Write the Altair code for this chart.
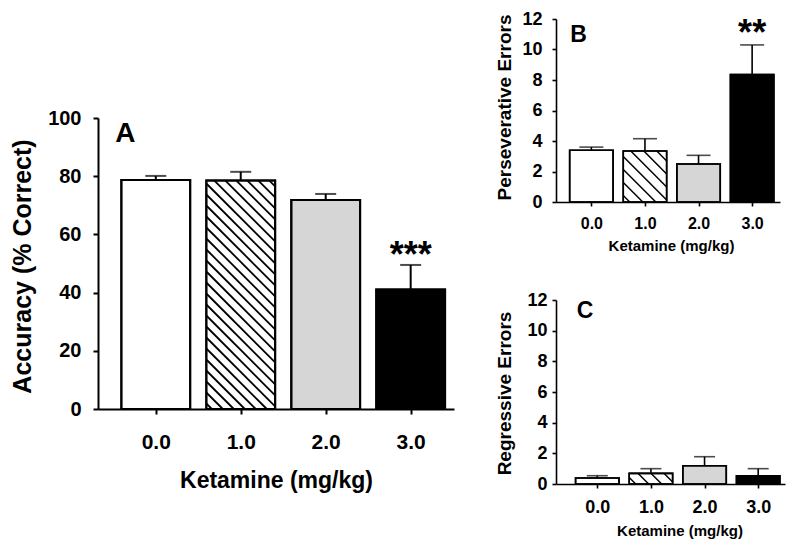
import altair as alt
import pandas as pd

# ---------------- data ----------------
doses = [0.0, 1.0, 2.0, 3.0]
bar_fills = ["#ffffff", "#ffffff", "#d6d6d6", "#000000"]

acc_mean = [78.7, 78.5, 71.8, 41.1]
acc_sem = [1.4, 3.0, 2.1, 8.4]

pers_mean = [3.39, 3.34, 2.49, 8.35]
pers_sem = [0.21, 0.81, 0.57, 1.95]

reg_mean = [0.39, 0.69, 1.19, 0.54]
reg_sem = [0.15, 0.31, 0.59, 0.46]

acc_ticks = [0, 20, 40, 60, 80, 100]
err_ticks = [0, 2, 4, 6, 8, 10, 12]

x_title = "Ketamine (mg/kg)"

FONT = "Liberation Sans"
HALF = 0.405  # half bar width in dose units


def hatch_segments(center, value, kx, ky, spacing):
    """Diagonal '\\' hatch lines clipped to a bar, returned in data units."""
    W = 2 * HALF * kx
    H = value * ky
    rows = []
    c = spacing * 0.5
    while c < W + H:
        u0 = max(0.0, c - H)
        u1 = min(W, c)
        if u1 > u0:
            rows.append({
                "hx1": center - HALF + u0 / kx, "hy1": (c - u0) / ky,
                "hx2": center - HALF + u1 / kx, "hy2": (c - u1) / ky,
            })
        c += spacing
    return pd.DataFrame(rows)


def panel(means, sems, ytitle, yticks, xdom, ydom, w, h, o):
    kx = w / (xdom[1] - xdom[0])
    ky = h / (ydom[1] - ydom[0])
    df = pd.DataFrame({
        "dose": doses,
        "mean": means,
        "top": [m + s for m, s in zip(means, sems)],
        "lo": [d - HALF for d in doses],
        "hi": [d + HALF for d in doses],
        "zero": [0.0] * 4,
        "fill": bar_fills,
    })
    xs = alt.Scale(domain=xdom, nice=False, zero=False)
    ys = alt.Scale(domain=ydom, nice=False, zero=False)
    xaxis = alt.Axis(
        values=doses, format=".1f", grid=False, labelFlush=False, labelOverlap=False,
        labelFont=FONT, labelFontSize=o["xlab"], labelFontWeight="bold", labelColor="black",
        labelBaseline="alphabetic", labelPadding=o["xpad"],
        tickSize=o["tick"], tickWidth=o["sw"], tickColor="black",
        domainColor="black", domainWidth=o["sw"],
        titleFont=FONT, titleFontSize=o["xtit"], titleFontWeight="bold", titleColor="black",
        titleX=w / 2 + o["xtx"], titleY=o["xty"], titleBaseline="alphabetic", titleAlign="center",
    )
    yaxis = alt.Axis(
        values=yticks, format="d", grid=False, labelFlush=False, labelOverlap=False,
        labelFont=FONT, labelFontSize=o["ylab"], labelFontWeight="bold", labelColor="black",
        labelAlign="right", labelBaseline="middle", labelPadding=o["ypad"],
        tickSize=o["tick"], tickWidth=o["sw"], tickColor="black",
        domainColor="black", domainWidth=o["sw"],
        titleFont=FONT, titleFontSize=o["ytit"], titleFontWeight="bold", titleColor="black",
        titleX=o["ytx"], titleY=o["yty"], titleAngle=270, titleBaseline="middle", titleAlign="center",
    )

    def X(f):
        return alt.X(f, type="quantitative", scale=xs, axis=xaxis, title=x_title)

    def Y(f):
        return alt.Y(f, type="quantitative", scale=ys, axis=yaxis, title=ytitle)

    base = alt.Chart(df)
    bars = base.mark_rect(stroke="black", strokeWidth=o["sw"]).encode(
        x=X("lo"), x2="hi", y=Y("mean"), y2="zero",
        fill=alt.Fill("fill:N", scale=None),
    )
    hd = hatch_segments(doses[1], means[1], kx, ky, o["hsp"])
    hatch = alt.Chart(hd).mark_rule(color="black", strokeWidth=o["hw"]).encode(
        x=X("hx1"), x2="hx2", y=Y("hy1"), y2="hy2"
    )
    outline = base.mark_rect(fillOpacity=0, stroke="black", strokeWidth=o["sw"]).encode(
        x=X("lo"), x2="hi", y=Y("mean"), y2="zero"
    )
    err = base.mark_rule(color="black", strokeWidth=o["sw"]).encode(
        x=X("dose"), y=Y("mean"), y2="top"
    )
    cap = base.mark_tick(orient="horizontal", size=o["cap"], thickness=o["sw"], color="black").encode(
        x=X("dose"), y=Y("top")
    )
    lab = alt.Chart(pd.DataFrame({"t": [o["letter"]], "lx": [o["lxy"][0]], "ly": [o["lxy"][1]]})).mark_text(
        font=FONT, fontWeight="bold", fontSize=o["lfs"], align="left", baseline="alphabetic", color="black"
    ).encode(x=X("lx"), y=Y("ly"), text="t:N")
    sig = alt.Chart(pd.DataFrame({"t": [o["sig"]], "sx": [3.0], "sy": [o["sigy"]]})).mark_text(
        font=FONT, fontWeight="bold", fontSize=o["sfs"], align="center", baseline="alphabetic", color="black"
    ).encode(x=X("sx"), y=Y("sy"), text="t:N")
    layers = [bars, hatch, outline, err, cap, lab]
    if o["sig"]:
        layers.append(sig)
    return alt.layer(*layers).properties(width=w, height=h)


A = panel(acc_mean, acc_sem, "Accuracy (% Correct)", acc_ticks, [-0.68, 3.51], [0, 100], 356, 291, dict(
    xlab=21, ylab=20, xtit=23, ytit=25, xpad=34, ypad=12, tick=5, sw=2, xtx=0, xty=78,
    ytx=-76, yty=148, hsp=11, hw=1.8, cap=21, letter="A", lxy=(-0.477, 91.9), lfs=28,
    sig="***", sigy=48.8, sfs=36))

B = panel(pers_mean, pers_sem, "Perseverative Errors", err_ticks, [-0.66, 3.52], [0, 12], 224, 183, dict(
    xlab=16, ylab=18, xtit=15, ytit=19, xpad=22, ypad=10, tick=4, sw=1.6, xtx=3, xty=48,
    ytx=-52, yty=88, hsp=13, hw=1.5, cap=24, letter="B", lxy=(-0.394, 10.51), lfs=23,
    sig="**", sigy=10.3, sfs=36))

C = panel(reg_mean, reg_sem, "Regressive Errors", err_ticks, [-0.77, 3.5], [0, 12], 229, 184, dict(
    xlab=18, ylab=18, xtit=15, ytit=19, xpad=24, ypad=5, tick=4, sw=1.6, xtx=9, xty=51,
    ytx=-52, yty=93, hsp=13, hw=1.5, cap=21, letter="C", lxy=(-0.382, 10.83), lfs=23,
    sig="", sigy=0, sfs=36))

spacer = alt.Chart(pd.DataFrame({"v": [0]})).mark_point(opacity=0).encode(
    x=alt.X("v:Q", axis=None), y=alt.Y("v:Q", axis=None)
).properties(width=356, height=99)

left = alt.vconcat(spacer, A, spacing=0, bounds="flush")
right = alt.vconcat(B, C, spacing=98, bounds="flush")

# nested concat groups count as zero width under flush bounds, so the
# spacing includes the left panel's plot width (356) plus the 102 px gap
chart = alt.hconcat(left, right, spacing=458, bounds="flush").configure_view(
    stroke=None
).properties(
    padding={"left": 2, "top": 2, "right": 5, "bottom": 5}, background="white"
)

chart.save("out.html", embed_options={"renderer": "svg", "actions": False})
